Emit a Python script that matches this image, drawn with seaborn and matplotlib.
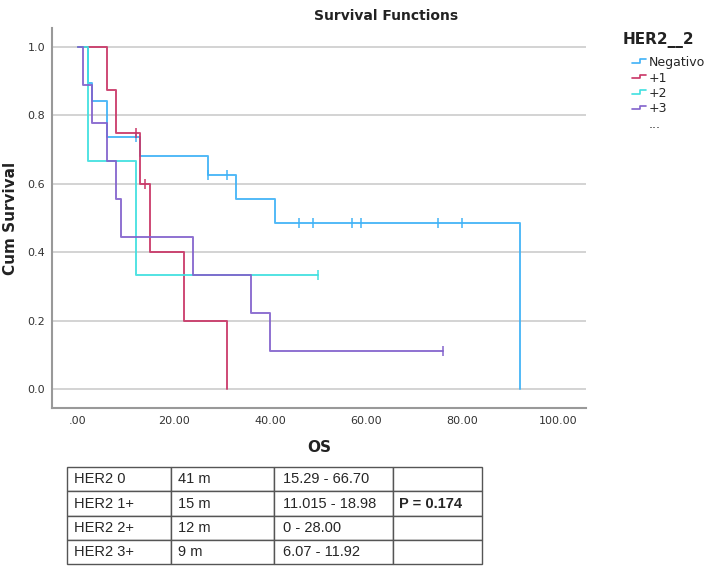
import matplotlib
matplotlib.use("Agg")
import matplotlib.pyplot as plt
import seaborn as sns
import pandas as pd
from matplotlib.legend_handler import HandlerBase
from matplotlib.lines import Line2D

# Kaplan-Meier step values (time of drop, survival after it)
groups = ["Negativo", "+1", "+2", "+3"]
colors = ["#3fb2f7", "#c93566", "#3fe0e0", "#8262cc"]

neg_t = [0, 2, 3, 6, 13, 27, 33, 41, 92]
neg_s = [1.0, 0.895, 0.842, 0.737, 0.680, 0.625, 0.555, 0.486, 0.0]
neg_ct = [12, 27, 31, 46, 49, 57, 59, 75, 80]
neg_cs = [0.737, 0.625, 0.625, 0.486, 0.486, 0.486, 0.486, 0.486, 0.486]

p1_t = [0, 6, 8, 13, 15, 22, 31]
p1_s = [1.0, 0.875, 0.75, 0.60, 0.40, 0.20, 0.0]
p1_ct = [12, 14]
p1_cs = [0.75, 0.60]

p2_t = [0, 2, 12, 50]
p2_s = [1.0, 0.667, 0.333, 0.333]
p2_ct = [50]
p2_cs = [0.333]

p3_t = [0, 1, 3, 6, 8, 9, 24, 36, 40, 76]
p3_s = [1.0, 0.889, 0.778, 0.667, 0.556, 0.444, 0.333, 0.222, 0.111, 0.111]
p3_ct = [76]
p3_cs = [0.111]

# Summary table under the plot
tbl_group = ["HER2 0", "HER2 1+", "HER2 2+", "HER2 3+"]
tbl_median = ["41 m", "15 m", "12 m", "9 m"]
tbl_ci = ["15.29 - 66.70", "11.015 - 18.98", "0 - 28.00", "6.07 - 11.92"]
p_value = "P = 0.174"

steps = pd.concat([
    pd.DataFrame({"OS": t, "surv": s, "group": g})
    for g, t, s in zip(groups, [neg_t, p1_t, p2_t, p3_t], [neg_s, p1_s, p2_s, p3_s])
])
cens = pd.concat([
    pd.DataFrame({"OS": t, "surv": s, "group": g})
    for g, t, s in zip(groups, [neg_ct, p1_ct, p2_ct, p3_ct], [neg_cs, p1_cs, p2_cs, p3_cs])
])


class StepHandler(HandlerBase):
    # little step icon like the SPSS legend
    def create_artists(self, legend, orig, xd, yd, w, h, fs, trans):
        c = orig.get_color()
        xs = [xd, xd + w * 0.55, xd + w * 0.55, xd + w]
        ys = [yd + h * 0.35, yd + h * 0.35, yd + h * 0.75, yd + h * 0.75]
        ln = Line2D(xs, ys, color=c, lw=1.2, transform=trans)
        if c == "none":
            ln.set_visible(False)
        return [ln]


sns.set_style("white")
plt.rcParams["font.family"] = ["DejaVu Sans"]

fig = plt.figure(figsize=(7.08, 5.70), dpi=100)
ax = fig.add_axes([0.0734, 0.2842, 0.7543, 0.6667])

palette = dict(zip(groups, colors))
for g in groups:
    d = steps[steps.group == g]
    sns.lineplot(data=d, x="OS", y="surv", color=palette[g], drawstyle="steps-post",
                 estimator=None, sort=False, lw=1.4, alpha=0.9, ax=ax, label=g)
    c = cens[cens.group == g]
    ax.plot(c["OS"], c["surv"], ls="none", marker="|", ms=7, mew=1.2,
            color=palette[g], alpha=0.9)

ax.set_xlim(-5.4, 105.8)
ax.set_ylim(-0.056, 1.056)
ax.set_xticks([0, 20, 40, 60, 80, 100])
ax.set_xticklabels([".00", "20.00", "40.00", "60.00", "80.00", "100.00"])
ax.set_yticks([0.0, 0.2, 0.4, 0.6, 0.8, 1.0])
ax.set_yticklabels(["0.0", "0.2", "0.4", "0.6", "0.8", "1.0"])
ax.tick_params(axis="both", length=0, labelsize=8, colors="#333333")
ax.tick_params(axis="y", pad=5)
ax.tick_params(axis="x", pad=6)
ax.yaxis.grid(True, color="#cccccc", lw=1.2)
ax.set_axisbelow(True)
for sp in ["top", "right"]:
    ax.spines[sp].set_visible(False)
for sp in ["left", "bottom"]:
    ax.spines[sp].set_color("#999999")
    ax.spines[sp].set_linewidth(1.5)

fig.text(386 / 708, 1 - 16 / 570, "Survival Functions", fontsize=10, fontweight="bold",
         ha="center", va="center", color="#222222")
ax.set_xlabel("OS", fontsize=11, fontweight="bold", labelpad=10, color="#222222")
ax.set_ylabel("Cum Survival", fontsize=11, fontweight="bold", color="#222222")
ax.yaxis.set_label_coords(-0.064, 0.5)

fig.text(623 / 708, 1 - 40 / 570, "HER2__2", fontsize=11, fontweight="bold",
         ha="left", va="center", color="#222222")
handles, labels = ax.get_legend_handles_labels()
extra = Line2D([], [], color="none")
leg = ax.legend(handles + [extra], labels + ["..."],
                loc="upper left", bbox_to_anchor=(632 / 708, 1 - 56 / 570),
                bbox_transform=fig.transFigure, frameon=False, fontsize=9,
                handlelength=1.1, handletextpad=0.25, labelspacing=0.2,
                borderpad=0, borderaxespad=0,
                handler_map={Line2D: StepHandler()})

# table
tax = fig.add_axes([66.7 / 708, 1 - 564 / 570, 415 / 708, 96.7 / 570])
tax.axis("off")
cell_text = [[g, m, ci, p_value if i == 1 else ""]
             for i, (g, m, ci) in enumerate(zip(tbl_group, tbl_median, tbl_ci))]
tb = tax.table(cellText=cell_text, colWidths=[104.3, 103.3, 119, 88.4],
               cellLoc="left", bbox=[0, 0, 1, 1])
tb.auto_set_font_size(False)
for (r, cidx), cell in tb.get_celld().items():
    cell.set_edgecolor("#555555")
    cell.set_linewidth(1.0)
    cell.PAD = 0.07
    cell.get_text().set_fontsize(10.5)
    cell.get_text().set_family("Liberation Sans")
    if r == 1 and cidx == 3:
        cell.get_text().set_fontweight("bold")

fig.savefig("out.png", dpi=100)
